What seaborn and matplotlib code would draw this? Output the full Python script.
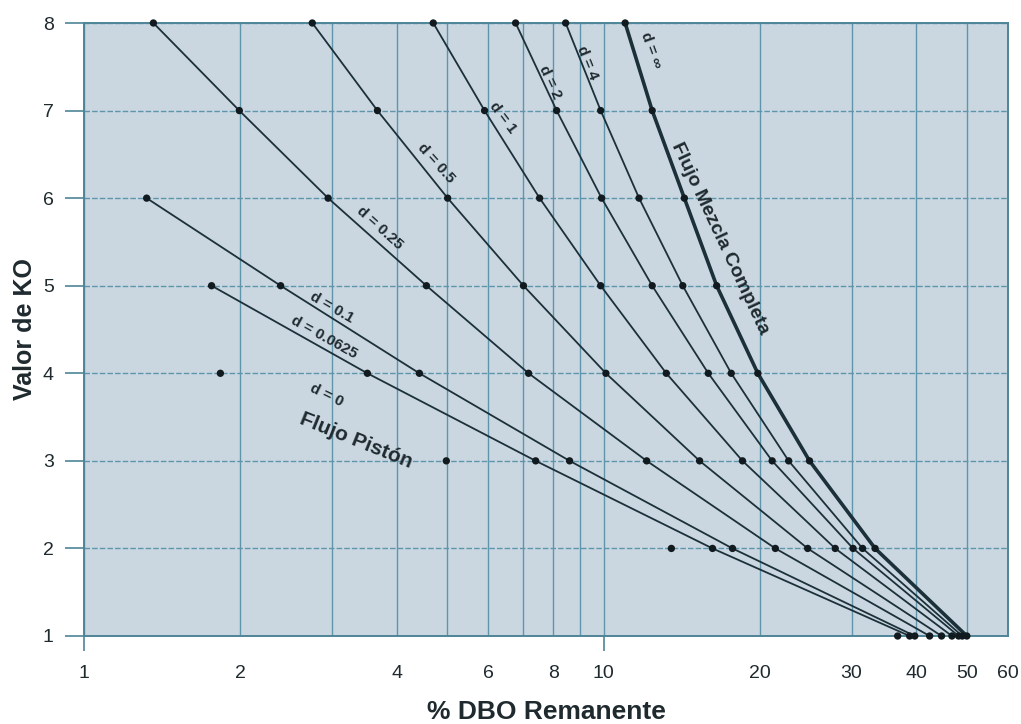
import numpy as np
import pandas as pd
import matplotlib
matplotlib.use("Agg")
import matplotlib.pyplot as plt
import seaborn as sns

# ---- data ----
ko_all = [8, 7, 6, 5, 4, 3, 2, 1]
pct_d_inf = [11.0, 12.4, 14.3, 16.5, 19.8, 24.9, 33.3, 50.0]
pct_d_4 = [8.45, 9.87, 11.7, 14.2, 17.6, 22.7, 31.5, 49.0]
pct_d_2 = [6.77, 8.12, 9.91, 12.4, 15.9, 21.1, 30.2, 48.2]
pct_d_1 = [4.70, 5.90, 7.53, 9.87, 13.2, 18.5, 27.9, 46.8]
pct_d_05 = [2.75, 3.67, 5.01, 7.01, 10.1, 15.3, 24.7, 44.7]
pct_d_025 = [1.36, 1.99, 2.95, 4.56, 7.17, 12.1, 21.4, 42.4]
ko_d01 = [6, 5, 4, 3, 2, 1]
pct_d_01 = [1.32, 2.39, 4.42, 8.60, 17.7, 39.7]
ko_d00625 = [5, 4, 3, 2, 1]
pct_d_00625 = [1.76, 3.51, 7.40, 16.2, 38.8]
ko_d0 = [4, 3, 2, 1]
pct_d_0 = [1.83, 4.98, 13.5, 36.8]

x_ticks = [1, 2, 4, 6, 8, 10, 20, 30, 40, 50, 60]
x_ticklabels = ["1", "2", "4", "6", "8", "10", "20", "30", "40", "50", "60"]
y_ticks = [1, 2, 3, 4, 5, 6, 7, 8]
x_grid = [1, 2, 3, 4, 5, 6, 7, 8, 9, 10, 20, 30, 40, 50]

curve_labels = [
    # text, x, y, rotation, size
    ("d = 0.1", 3.00, 4.75, -30, 11),
    ("d = 0.0625", 2.90, 4.41, -29, 11),
    ("d = 0", 2.93, 3.745, -26, 11),
    ("Flujo Pistón", 3.34, 3.23, -22, 15),
    ("d = 0.25", 3.70, 5.655, -42, 11),
    ("d = 0.5", 4.75, 6.40, -48, 11),
    ("d = 1", 6.39, 6.92, -53, 11),
    ("d = 2", 7.87, 7.325, -65, 11),
    ("d = 4", 9.31, 7.55, -68, 11),
    ("d = ∞", 12.32, 7.69, -70, 11),
    ("Flujo Mezcla Completa", 16.73, 5.54, -65, 14),
]

# ---- style ----
sns.set_theme(style="white")
plt.rcParams["font.family"] = ["Liberation Sans", "DejaVu Sans"]

bg = "#cad7e1"
grid_c = "#5e95aa"
spine_c = "#4f8599"
ink = "#1c3039"
text_c = "#1f2a2f"

fig = plt.figure(figsize=(10.21, 7.24), dpi=100)
ax = fig.add_axes([84 / 1021, 1 - 636 / 724, (1008 - 84) / 1021, (636 - 23) / 724])
ax.set_facecolor(bg)

ax.set_xscale("log")
ax.set_xlim(1, 60)
ax.set_ylim(1, 8)

for gx in x_grid:
    ax.axvline(gx, color=grid_c, lw=1.0, zorder=1)
for gy in y_ticks:
    ax.axhline(gy, color=grid_c, lw=1.0, ls=(0, (4, 1.5)), zorder=1)

series = [
    (pct_d_025, ko_all, 1.3),
    (pct_d_05, ko_all, 1.3),
    (pct_d_1, ko_all, 1.3),
    (pct_d_2, ko_all, 1.3),
    (pct_d_4, ko_all, 1.3),
    (pct_d_inf, ko_all, 2.6),
    (pct_d_01, ko_d01, 1.3),
    (pct_d_00625, ko_d00625, 1.3),
]
for pct, ko, lw in series:
    df = pd.DataFrame({"pct": pct, "ko": ko})
    sns.lineplot(data=df, x="pct", y="ko", ax=ax, color=ink, lw=lw,
                 sort=False, estimator=None, zorder=3)
    sns.scatterplot(data=df, x="pct", y="ko", ax=ax, color="#111a1e",
                    s=28, edgecolor="none", zorder=4, clip_on=False)

df0 = pd.DataFrame({"pct": pct_d_0, "ko": ko_d0})
sns.scatterplot(data=df0, x="pct", y="ko", ax=ax, color="#111a1e",
                s=28, edgecolor="none", zorder=4, clip_on=False)

for txt, x, y, rot, size in curve_labels:
    ax.text(x, y, txt, rotation=rot, rotation_mode="anchor", ha="center",
            va="center", fontsize=size, fontweight="bold", color=text_c, zorder=5)

# axes / ticks
ax.set_xticks(x_ticks)
ax.set_xticklabels(x_ticklabels)
ax.xaxis.set_minor_locator(matplotlib.ticker.FixedLocator([1, 10]))
ax.xaxis.set_minor_formatter(matplotlib.ticker.NullFormatter())
ax.xaxis.remove_overlapping_locs = False
ax.tick_params(axis="x", which="major", length=0, pad=21, labelsize=14,
               labelcolor=text_c)
ax.tick_params(axis="x", which="minor", length=11, width=1.2, color=spine_c,
               bottom=True, direction="out")
ax.set_yticks(y_ticks)
ax.set_yticklabels([str(v) for v in y_ticks])
ax.tick_params(axis="y", which="major", length=13.7, width=1.2, color=spine_c,
               pad=8, labelsize=14, labelcolor=text_c, left=True, direction="out")

for s in ax.spines.values():
    s.set_color(spine_c)
    s.set_linewidth(1.4)

ax.set_xlabel("% DBO Remanente", fontsize=19, fontweight="bold", color=text_c,
              labelpad=13)
ax.set_ylabel("Valor de KO", fontsize=18, fontweight="bold", color=text_c,
              labelpad=4)

fig.savefig("out.png", dpi=100, facecolor="white")
